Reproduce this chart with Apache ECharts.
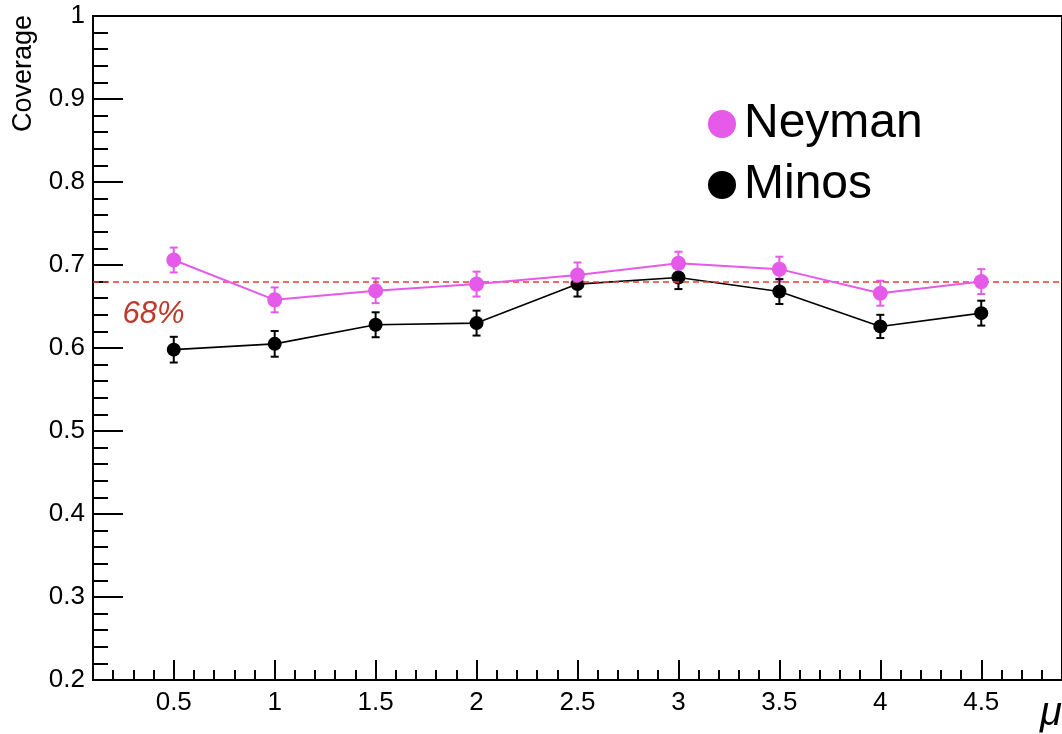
<!DOCTYPE html>
<html>
<head>
<meta charset="utf-8">
<script src="https://cdn.jsdelivr.net/npm/echarts@6/dist/echarts.min.js"></script>
<style>html,body{margin:0;padding:0;background:#fff;}#chart{width:1062px;height:734px;}</style>
</head>
<body>
<div id="chart"></div>
<script>
const muValues = [0.5, 1, 1.5, 2, 2.5, 3, 3.5, 4, 4.5];
const neyman = [0.706, 0.658, 0.669, 0.677, 0.688, 0.702, 0.695, 0.666, 0.680];
const neymanErr = [0.015, 0.015, 0.015, 0.015, 0.015, 0.014, 0.015, 0.015, 0.015];
const minos = [0.598, 0.605, 0.628, 0.630, 0.677, 0.685, 0.668, 0.626, 0.642];
const minosErr = [0.0155, 0.0155, 0.015, 0.015, 0.015, 0.014, 0.015, 0.014, 0.015];
const referenceLevel = 0.68;
const xMajorTicks = [0.5, 1, 1.5, 2, 2.5, 3, 3.5, 4, 4.5];
const xMinorTicks = [0.2,0.3,0.4,0.6,0.7,0.8,0.9,1.1,1.2,1.3,1.4,1.6,1.7,1.8,1.9,2.1,2.2,2.3,2.4,2.6,2.7,2.8,2.9,3.1,3.2,3.3,3.4,3.6,3.7,3.8,3.9,4.1,4.2,4.3,4.4,4.6,4.7,4.8];
const yMajorTicks = [0.2, 0.3, 0.4, 0.5, 0.6, 0.7, 0.8, 0.9, 1];
const yMinorTicks = [0.22,0.24,0.26,0.28,0.32,0.34,0.36,0.38,0.42,0.44,0.46,0.48,0.52,0.54,0.56,0.58,0.62,0.64,0.66,0.68,0.72,0.74,0.76,0.78,0.82,0.84,0.86,0.88,0.92,0.94,0.96,0.98];

const NEY = '#e55ae8';
const MIN = '#000000';
const FONT = 'Liberation Sans, Arial, Helvetica, sans-serif';

function errorSeries(vals, errs, color) {
  return {
    type: 'custom',
    xAxisIndex: 0, yAxisIndex: 0,
    silent: true,
    z: 3,
    data: muValues.map((x, i) => [x, vals[i], errs[i]]),
    renderItem: function (params, api) {
      const x = api.value(0), y = api.value(1), e = api.value(2);
      const lo = api.coord([x, y - e]);
      const hi = api.coord([x, y + e]);
      const w = 4;
      const st = { stroke: color, lineWidth: 2 };
      return {
        type: 'group',
        children: [
          { type: 'line', shape: { x1: lo[0], y1: lo[1], x2: hi[0], y2: hi[1] }, style: st },
          { type: 'line', shape: { x1: lo[0] - w, y1: lo[1], x2: lo[0] + w, y2: lo[1] }, style: st },
          { type: 'line', shape: { x1: hi[0] - w, y1: hi[1], x2: hi[0] + w, y2: hi[1] }, style: st }
        ]
      };
    }
  };
}

const chart = echarts.init(document.getElementById('chart'), null, { renderer: 'canvas' });
chart.setOption({
  backgroundColor: '#ffffff',
  animation: false,
  grid: {
    left: 93, top: 16, bottom: 54, right: -5,
    show: true, borderColor: '#000', borderWidth: 2, backgroundColor: 'transparent'
  },
  legend: {
    data: ['Neyman', 'Minos'],
    orient: 'vertical',
    left: 703, top: 95,
    icon: 'circle',
    itemWidth: 28, itemHeight: 28,
    itemGap: 13,
    textStyle: { fontSize: 48, fontFamily: FONT, color: '#000', padding: [0, 0, 0, 3] },
    selectedMode: false
  },
  xAxis: [
    {
      type: 'value', min: 0.1, max: 4.9, position: 'bottom',
      axisLine: { show: true, onZero: false, lineStyle: { color: '#000', width: 2 } },
      axisTick: { show: true, inside: true, length: 20, customValues: xMajorTicks, lineStyle: { color: '#000', width: 2 } },
      axisLabel: { show: true, customValues: xMajorTicks, margin: 10, fontSize: 26, fontFamily: FONT, color: '#000',
        formatter: v => String(v) },
      splitLine: { show: false }
    },
    {
      type: 'value', min: 0.1, max: 4.9, position: 'bottom',
      axisLine: { show: false },
      axisTick: { show: true, inside: true, length: 10, customValues: xMinorTicks, lineStyle: { color: '#000', width: 2 } },
      axisLabel: { show: false },
      splitLine: { show: false }
    }
  ],
  yAxis: [
    {
      type: 'value', min: 0.2, max: 1, position: 'left',
      axisLine: { show: true, onZero: false, lineStyle: { color: '#000', width: 2 } },
      axisTick: { show: true, inside: true, length: 30, customValues: yMajorTicks, lineStyle: { color: '#000', width: 2 } },
      axisLabel: { show: true, customValues: yMajorTicks, margin: 8, fontSize: 26, fontFamily: FONT, color: '#000',
        formatter: v => String(v) },
      splitLine: { show: false }
    },
    {
      type: 'value', min: 0.2, max: 1, position: 'left',
      axisLine: { show: false },
      axisTick: { show: true, inside: true, length: 15, customValues: yMinorTicks, lineStyle: { color: '#000', width: 2 } },
      axisLabel: { show: false },
      splitLine: { show: false }
    }
  ],
  graphic: [
    {
      type: 'text', x: 10, y: 15, rotation: Math.PI / 2,
      style: { text: 'Coverage', font: '27px ' + FONT, fill: '#000', textAlign: 'right', textVerticalAlign: 'top' }
    },
    {
      type: 'text', right: 0, bottom: 0,
      style: { text: 'μ', font: 'italic 40px ' + FONT, fill: '#000' }
    }
  ],
  series: [
    errorSeries(neyman, neymanErr, NEY),
    errorSeries(minos, minosErr, MIN),
    {
      name: 'Minos', type: 'line', xAxisIndex: 0, yAxisIndex: 0,
      data: muValues.map((x, i) => [x, minos[i]]),
      symbol: 'circle', symbolSize: 14,
      itemStyle: { color: MIN },
      lineStyle: { color: MIN, width: 1.6 },
      z: 4
    },
    {
      name: 'Neyman', type: 'line', xAxisIndex: 0, yAxisIndex: 0,
      data: muValues.map((x, i) => [x, neyman[i]]),
      symbol: 'circle', symbolSize: 15,
      itemStyle: { color: NEY },
      lineStyle: { color: NEY, width: 2 },
      z: 5,
      markLine: {
        silent: true, symbol: 'none',
        label: { show: false },
        lineStyle: { color: '#ee3a2e', type: [6, 4], width: 1.6 },
        data: [{ yAxis: referenceLevel }]
      },
      markPoint: {
        silent: true, symbol: 'circle', symbolSize: 0,
        label: { show: true, position: 'inside', formatter: '68%', fontSize: 31, fontStyle: 'italic',
          fontFamily: FONT, color: '#c0392b' },
        data: [{ coord: [0.4, 0.641] }]
      }
    }
  ]
});
</script>
</body>
</html>
